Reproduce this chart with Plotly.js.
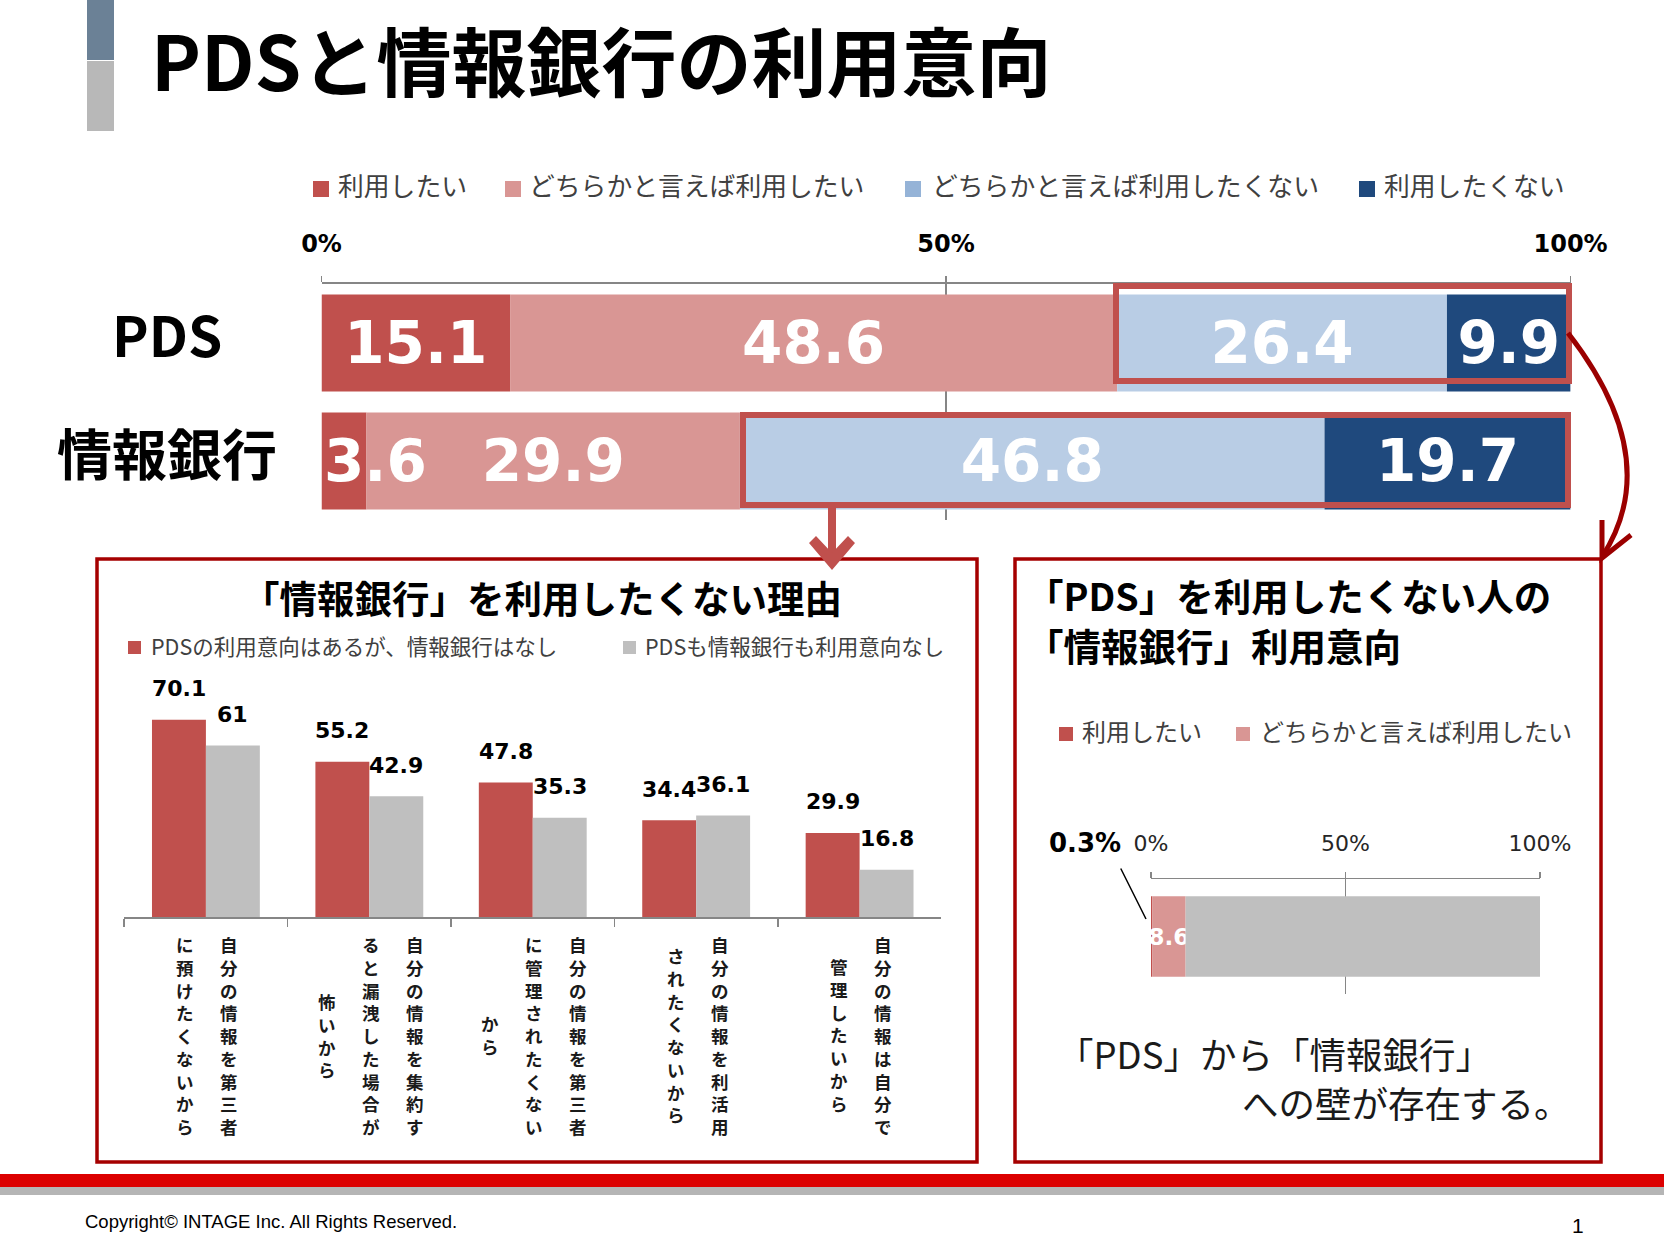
<!DOCTYPE html>
<html><head><meta charset="utf-8">
<script src="https://cdn.plot.ly/plotly-3.0.1.min.js"></script>
<style>html,body{margin:0;padding:0;background:#fff}#chart{width:1664px;height:1248px}</style>
</head><body><div id="chart"></div>
<script>
// ---------------- data ----------------
const pageTitle = 'PDSと情報銀行の利用意向';
const topCategories = ['PDS', '情報銀行'];
const seriesNames = ['利用したい', 'どちらかと言えば利用したい', 'どちらかと言えば利用したくない', '利用したくない'];
const wantYes = [15.1, 3.6];
const ratherYes = [48.6, 29.9];
const ratherNo = [26.4, 46.8];
const wantNo = [9.9, 19.7];
const axisTicks = [0, 50, 100];
const axisTickText = ['0%', '50%', '100%'];

const reasonTitle = '「情報銀行」を利用したくない理由';
const reasonSeries = ['PDSの利用意向はあるが、情報銀行はなし', 'PDSも情報銀行も利用意向なし'];
const reasonLabels = [
  ['自分の情報を第三者', 'に預けたくないから'],
  ['自分の情報を集約す', 'ると漏洩した場合が', '怖いから'],
  ['自分の情報を第三者', 'に管理されたくない', 'から'],
  ['自分の情報を利活用', 'されたくないから'],
  ['自分の情報は自分で', '管理したいから']
];
const pdsYesBankNo = [70.1, 55.2, 47.8, 34.4, 29.9];
const bothNo = [61, 42.9, 35.3, 36.1, 16.8];

const subTitle = ['「PDS」を利用したくない人の', '「情報銀行」利用意向'];
const subCategory = ['PDSを利用したくない人'];
const subSeries = ['利用したい', 'どちらかと言えば利用したい', 'その他'];
const subValues = [0.3, 8.6, 91.1];
const conclusion = ['「PDS」から「情報銀行」', 'への壁が存在する。'];
const footerText = 'Copyright© INTAGE Inc. All Rights Reserved.';
const pageNumber = '1';

// ---------------- helpers ----------------
const W = 1664, H = 1248;
const X = p => p / W;
const Y = p => 1 - p / H;
const JP = 'Noto Sans CJK JP';
const NUM = 'DejaVu Sans';
const topColors = ['#c0504d', '#d99694', '#b9cde5', '#1f497d'];
const swatchColors = ['#c0504d', '#d99694', '#95b3d7', '#1f497d'];
const reasonColors = ['#c0504d', '#bfbfbf'];
const subColors = ['#c0504d', '#d99694', '#bfbfbf'];

function rect(x0, y0, x1, y1, fill, line) {
  return {type: 'rect', xref: 'paper', yref: 'paper', x0: X(x0), x1: X(x1), y0: Y(y1), y1: Y(y0),
    fillcolor: fill || 'rgba(0,0,0,0)', line: line || {width: 0}};
}
function pt(p) { return X(p[0]) + ',' + Y(p[1]); }
function pathShape(d, fill, line) {
  return {type: 'path', xref: 'paper', yref: 'paper', path: d, fillcolor: fill || 'rgba(0,0,0,0)', line: line || {width: 0}};
}
function poly(points, close) {
  return 'M ' + points.map(pt).join(' L ') + (close ? ' Z' : '');
}
function txt(text, x, y, size, opts) {
  const o = Object.assign({xanchor: 'left', yanchor: 'middle', color: '#000', family: JP, weight: 'normal'}, opts || {});
  return {text: text, xref: 'paper', yref: 'paper', x: X(x), y: Y(y), xanchor: o.xanchor, yanchor: o.yanchor,
    showarrow: false, borderpad: 0, font: {family: o.family, size: size, color: o.color, weight: o.weight}};
}

const traces = [];
const annotations = [];
const shapes = [];

// ---------------- top stacked bars ----------------
const topSeries = [wantYes, ratherYes, ratherNo, wantNo];
const cumulative = topCategories.map(() => 0);
const topFont = {family: NUM, size: 58, color: '#ffffff', weight: 'bold'};
topSeries.forEach((vals, k) => {
  const base = cumulative.slice();
  traces.push({
    type: 'bar', orientation: 'h', name: seriesNames[k], xaxis: 'x', yaxis: 'y',
    y: topCategories, x: vals, base: base, width: 0.82,
    marker: {color: topColors[k], line: {width: 0}},
    text: vals.map(v => v >= 5 ? String(v) : ''),
    textposition: 'inside', insidetextanchor: 'middle', constraintext: 'none', textangle: 0,
    textfont: topFont,
    hoverinfo: 'skip', showlegend: false
  });
  vals.forEach((v, i) => {
    if (v < 5) {
      annotations.push({text: String(v), xref: 'x', yref: 'y', x: base[i], y: i, xanchor: 'left', yanchor: 'middle',
        showarrow: false, font: topFont});
    }
    cumulative[i] += v;
  });
});
topCategories.forEach((c, i) => {
  annotations.push({text: c, xref: 'paper', yref: 'y', x: X(167), y: i, yshift: 10, xanchor: 'center', yanchor: 'middle',
    showarrow: false, font: {family: JP, size: 55, color: '#000', weight: 'bold'}});
});

// ---------------- reasons grouped bars ----------------
const reasonCats = reasonLabels.map(c => c.join(''));
[pdsYesBankNo, bothNo].forEach((vals, s) => {
  traces.push({
    type: 'bar', name: reasonSeries[s], xaxis: 'x2', yaxis: 'y2',
    x: reasonCats, y: vals, width: 0.33, offset: s === 0 ? -0.33 : 0,
    marker: {color: reasonColors[s], line: {width: 0}},
    hoverinfo: 'skip', showlegend: false
  });
  vals.forEach((v, i) => {
    annotations.push({text: String(v), xref: 'x2', yref: 'y2', x: i, y: v, xshift: s === 0 ? -27 : 27, yshift: 31,
      xanchor: 'center', yanchor: 'middle', showarrow: false,
      font: {family: NUM, size: 22, color: '#000', weight: 'bold'}});
  });
});
// vertical (tategaki) category labels: one text column per line, characters stacked
reasonLabels.forEach((cols, i) => {
  const nc = cols.length;
  cols.forEach((col, c) => {
    const xs = ((nc - 1) / 2 - c) * 44 + 1.5;
    annotations.push({text: Array.from(col).join('<br>'), xref: 'x2', yref: 'paper', x: i, y: Y(1035), xshift: xs,
      xanchor: 'center', yanchor: 'middle', align: 'center', showarrow: false,
      font: {family: JP, size: 17.5, color: '#1a1a1a', weight: 'bold'}});
  });
});

// ---------------- sub stacked bar ----------------
let subBase = 0;
subValues.forEach((v, k) => {
  traces.push({
    type: 'bar', orientation: 'h', name: subSeries[k], xaxis: 'x3', yaxis: 'y3',
    y: subCategory, x: [v], base: [subBase], width: 0.7,
    marker: {color: subColors[k], line: {width: 0}},
    text: [k === 1 ? String(v) : ''],
    textposition: 'inside', insidetextanchor: 'middle', constraintext: 'none', textangle: 0, cliponaxis: false,
    textfont: {family: NUM, size: 23, color: '#ffffff', weight: 'bold'},
    hoverinfo: 'skip', showlegend: false
  });
  subBase += v;
});
annotations.push(txt(String(subValues[0]) + '%', 1084.5, 843, 26, {xanchor: 'center', family: NUM, weight: 'bold'}));
annotations.push({text: '', xref: 'x3', yref: 'y3', x: 0, y: 0, xshift: -5, yshift: 17.5,
  showarrow: true, arrowhead: 0, arrowwidth: 1.5, arrowcolor: '#000', ax: -26, ay: -52, standoff: 0});

// ---------------- texts ----------------
annotations.push(txt(pageTitle, 150, 58, 75, {weight: 'bold'}));
const legendSwatchX = [313, 505, 905, 1359];
const legendTextX = [337, 528, 931, 1383];
seriesNames.forEach((n, k) => {
  shapes.push(rect(legendSwatchX[k], 181, legendSwatchX[k] + 16, 197, swatchColors[k]));
  annotations.push(txt(n, legendTextX[k], 184, 25.8, {color: '#404040'}));
});
annotations.push(txt(reasonTitle, 542, 596, 37.5, {xanchor: 'center', weight: 'bold'}));
const rLegSwX = [128, 623], rLegTxX = [150, 644];
reasonSeries.forEach((n, s) => {
  shapes.push(rect(rLegSwX[s], 641, rLegSwX[s] + 13, 654, reasonColors[s]));
  annotations.push(txt(n, rLegTxX[s], 645, 21.5, {color: '#404040'}));
});
annotations.push(txt(subTitle[0], 1025, 594, 37.5, {weight: 'bold'}));
annotations.push(txt(subTitle[1], 1025, 644, 37.5, {weight: 'bold'}));
const sLegSwX = [1059, 1236], sLegTxX = [1081, 1259];
[0, 1].forEach(k => {
  shapes.push(rect(sLegSwX[k], 727, sLegSwX[k] + 14, 741, subColors[k]));
  annotations.push(txt(subSeries[k], sLegTxX[k], 730, 24, {color: '#404040'}));
});
annotations.push(txt(conclusion[0], 1056, 1053, 36.5, {color: '#1a1a1a'}));
annotations.push(txt(conclusion[1], 1241, 1102, 36.5, {color: '#1a1a1a'}));
annotations.push(txt(footerText, 84, 1221, 18.5, {family: 'Liberation Sans', color: '#000'}));
annotations.push(txt(pageNumber, 1578, 1225, 21, {xanchor: 'center', family: 'Liberation Sans', color: '#000'}));

// ---------------- decoration shapes ----------------
shapes.push(rect(87, 0, 114, 60, '#6b8196'));
shapes.push(rect(87, 61, 114, 131, '#b8b8b8'));
// panels
shapes.push(rect(97, 559, 977, 1162, null, {color: '#a50000', width: 3.5}));
shapes.push(rect(1015, 559, 1601, 1162, null, {color: '#a50000', width: 3.5}));
// highlight frames
shapes.push(rect(1116, 286, 1569, 381, null, {color: '#c0504d', width: 6}));
shapes.push(rect(743, 415, 1568, 505, null, {color: '#c0504d', width: 6}));
// straight arrow
shapes.push(rect(828, 508, 836, 556, '#c0504d'));
shapes.push(pathShape(poly([[832, 570], [809, 543], [816, 536], [832, 553], [848, 536], [855, 543]], true), '#c0504d'));
// curved arrow
shapes.push(pathShape('M ' + pt([1568, 333]) + ' C ' + pt([1620, 400]) + ' ' + pt([1652, 480]) + ' ' + pt([1602, 557]),
  null, {color: '#9b0000', width: 5}));
shapes.push(pathShape(poly([[1602, 520], [1602, 558], [1631, 535]], false), null, {color: '#9b0000', width: 5}));
// footer bands
shapes.push(rect(0, 1174, W, 1187, '#dc0000'));
shapes.push(rect(0, 1187, W, 1195, '#b5b5b5'));

// ---------------- layout ----------------
const gridGray = '#868686';
const layout = {
  width: W, height: H, margin: {l: 0, r: 0, t: 0, b: 0},
  paper_bgcolor: '#ffffff', plot_bgcolor: 'rgba(0,0,0,0)',
  barmode: 'overlay', showlegend: false,
  font: {family: JP, color: '#000'},
  xaxis: {domain: [X(321.5), X(1570.6)], anchor: 'y', side: 'top', range: [0, 100],
    tickvals: axisTicks, ticktext: axisTickText, ticks: 'outside', ticklen: 6, tickcolor: gridGray, tickwidth: 1.5,
    showline: true, linecolor: gridGray, linewidth: 2, showgrid: true, gridcolor: gridGray, gridwidth: 1.5,
    zeroline: false, ticklabelstandoff: 14, fixedrange: true,
    tickfont: {family: NUM, size: 24, color: '#000', weight: 'bold'}},
  yaxis: {domain: [Y(520), Y(284)], anchor: 'x', type: 'category', categoryarray: topCategories,
    range: [1.5, -0.5], showticklabels: false, showgrid: false, zeroline: false, showline: false, ticks: '', fixedrange: true},
  xaxis2: {domain: [X(124.2), X(941.3)], anchor: 'y2', type: 'category', categoryarray: reasonCats, range: [-0.5, 4.5],
    showticklabels: false, ticks: 'outside', tickson: 'boundaries', ticklen: 8, tickcolor: gridGray, tickwidth: 1.5,
    showline: true, linecolor: gridGray, linewidth: 1.5, showgrid: false, zeroline: false, fixedrange: true},
  yaxis2: {domain: [Y(917), Y(692)], anchor: 'x2', range: [0, 80], visible: false, fixedrange: true},
  xaxis3: {domain: [X(1151), X(1540)], anchor: 'y3', side: 'top', range: [0, 100],
    tickvals: axisTicks, ticktext: axisTickText, ticks: 'outside', ticklen: 6, tickcolor: gridGray, tickwidth: 1.5,
    showline: true, linecolor: gridGray, linewidth: 1.5, showgrid: true, gridcolor: gridGray, gridwidth: 1.5,
    zeroline: false, ticklabelstandoff: 12, fixedrange: true,
    tickfont: {family: NUM, size: 22, color: '#262626'}},
  yaxis3: {domain: [Y(994), Y(879)], anchor: 'x3', type: 'category', range: [-0.5, 0.5], visible: false, fixedrange: true},
  shapes: shapes,
  annotations: annotations
};

Plotly.newPlot('chart', traces, layout, {displayModeBar: false, staticPlot: true});
</script>
</body></html>
